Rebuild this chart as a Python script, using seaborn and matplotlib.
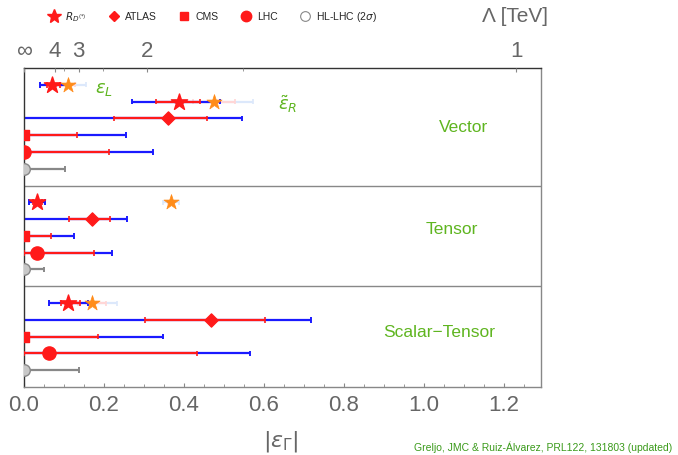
import numpy as np
import pandas as pd
import matplotlib
matplotlib.use("Agg")
import matplotlib.pyplot as plt
import seaborn as sns
from matplotlib.lines import Line2D

# ---------------- data ----------------
panels = ["Vector", "Tensor", "Scalar\u2212Tensor"]
panel_label_y = [3.57, 9.64, 15.77]
panel_label_x = [1.10, 1.07, 1.037]
separators = [7, 13]

row_y = [1, 2, 3, 4, 5, 6, 8, 9, 10, 11, 12, 14, 15, 16, 17, 18]
row_kind = ["RD", "RD", "ATLAS", "CMS", "LHC", "HL",
            "RD", "ATLAS", "CMS", "LHC", "HL",
            "RD", "ATLAS", "CMS", "LHC", "HL"]
central = [0.07, 0.3875, 0.36, 0.0, 0.0, 0.0,
           0.0325, 0.17, 0.0, 0.0325, 0.0,
           0.11, 0.4675, 0.0, 0.0625, 0.0]
lo1 = [0.057, 0.33, 0.225, 0.0, 0.0, np.nan,
       0.022, 0.1125, 0.0, 0.0, np.nan,
       0.0925, 0.3025, 0.0, 0.0, np.nan]
hi1 = [0.09, 0.44, 0.4575, 0.1325, 0.2125, np.nan,
       0.045, 0.215, 0.0675, 0.175, np.nan,
       0.14, 0.6025, 0.185, 0.4325, np.nan]
lo2 = [0.04, 0.27, 0.0, 0.0, 0.0, 0.0,
       0.0125, 0.0, 0.0, 0.0, 0.0,
       0.0625, 0.0, 0.0, 0.0, 0.0]
hi2 = [0.1125, 0.49, 0.545, 0.255, 0.3225, 0.1025,
       0.0525, 0.2575, 0.125, 0.22, 0.05,
       0.16, 0.7175, 0.3475, 0.565, 0.1375]

proj_y = [1, 2, 8, 14]
proj_x = [0.11, 0.475, 0.3675, 0.17]
proj_err1 = [0.018, 0.053, 0.008, 0.035]
proj_err2 = [0.045, 0.098, 0.02, 0.0625]

coef_labels = [r"$\epsilon_L$", r"$\tilde{\epsilon}_R$"]
coef_label_x = [0.20, 0.66]
coef_label_y = [1.3, 2.15]

lambda_ticks = [np.inf, 4, 3, 2, 1]
lambda_labels = ["\u221e", "4", "3", "2", "1"]
lambda_minor = [3.5, 2.5, 1.5]
lam_coef = 1.23

legend_names = [r"$R_{D^{(*)}}$", "ATLAS", "CMS", "LHC", "HL-LHC (2$\\sigma$)"]

# ---------------- style ----------------
sns.set_theme(style="white")
plt.rcParams["font.family"] = ["Liberation Sans", "DejaVu Sans"]
plt.rcParams["mathtext.fontset"] = "dejavusans"

RED = "#ff1a1a"
BLUE = "#1a1aff"
GRAY = "#888888"
ORANGE = "#ff8c1a"
PINK = "#ffd6d6"
LBLUE = "#dce8fb"
GREEN = "#5fb520"
TXT = "#666666"

df = pd.DataFrame(dict(y=row_y, kind=row_kind, c=central,
                       lo1=lo1, hi1=hi1, lo2=lo2, hi2=hi2))
proj = pd.DataFrame(dict(y=proj_y, x=proj_x, e1=proj_err1, e2=proj_err2))

fig = plt.figure(figsize=(6.78, 4.55), dpi=100)
ax = fig.add_axes([24 / 678, 1 - 387 / 455, 517 / 678, 319 / 455])

# faded projected bars
ax.hlines(proj.y, proj.x - proj.e2, proj.x + proj.e2, color=LBLUE, lw=1.6, zorder=1)
ax.vlines(np.r_[proj.x - proj.e2, proj.x + proj.e2], np.r_[proj.y, proj.y] - 0.15,
          np.r_[proj.y, proj.y] + 0.15, color=LBLUE, lw=1.2, zorder=1)
ax.hlines(proj.y, proj.x - proj.e1, proj.x + proj.e1, color=PINK, lw=1.6, zorder=1.5)
ax.vlines(np.r_[proj.x - proj.e1, proj.x + proj.e1], np.r_[proj.y, proj.y] - 0.15,
          np.r_[proj.y, proj.y] + 0.15, color=PINK, lw=1.2, zorder=1.5)

# 2 sigma bars
for kind_is_hl, col in [(False, BLUE), (True, GRAY)]:
    sub = df[(df.kind == "HL") == kind_is_hl]
    ax.hlines(sub.y, sub.lo2, sub.hi2, color=col, lw=1.6, zorder=2)
    ax.vlines(np.r_[sub.lo2, sub.hi2], np.r_[sub.y, sub.y] - 0.17,
              np.r_[sub.y, sub.y] + 0.17, color=col, lw=1.4, zorder=2)
# 1 sigma bars
sub = df.dropna(subset=["lo1"])
ax.hlines(sub.y, sub.lo1, sub.hi1, color=RED, lw=1.6, zorder=3)
ax.vlines(np.r_[sub.lo1, sub.hi1], np.r_[sub.y, sub.y] - 0.17,
          np.r_[sub.y, sub.y] + 0.17, color=RED, lw=1.2, zorder=3)

# markers
marker_map = {"RD": ("*", 150, RED, RED), "ATLAS": ("D", 45, RED, RED),
              "CMS": ("s", 45, RED, RED), "LHC": ("o", 90, RED, RED),
              "HL": ("o", 70, "#c8c8c8", GRAY)}
for k, (m, s, fc, ec) in marker_map.items():
    sub = df[df.kind == k]
    sns.scatterplot(data=sub, x="c", y="y", marker=m, s=s, color=fc,
                    edgecolor=ec, linewidth=1.0, ax=ax, zorder=5, legend=False)
sns.scatterplot(data=proj, x="x", y="y", marker="*", s=130, color=ORANGE,
                edgecolor=ORANGE, linewidth=0.5, ax=ax, zorder=4, legend=False)

# separators and labels
for s in separators:
    ax.axhline(s, color="#888888", lw=1.0, zorder=0)
for name, lx, ly in zip(panels, panel_label_x, panel_label_y):
    ax.text(lx, ly, name, color=GREEN, fontsize=12.5, ha="center", va="center")
for t, lx, ly in zip(coef_labels, coef_label_x, coef_label_y):
    ax.text(lx, ly, t, color=GREEN, fontsize=13, ha="center", va="center")

ax.set_xlim(0, 517 / 400)
ax.set_ylim(19, 0)
ax.set_yticks([])
ax.set_xticks([0.0, 0.2, 0.4, 0.6, 0.8, 1.0, 1.2])
ax.set_xticklabels(["0.0", "0.2", "0.4", "0.6", "0.8", "1.0", "1.2"])
ax.set_xticks(np.arange(0, 1.29, 0.05), minor=True)
ax.tick_params(axis="x", which="both", direction="in", bottom=True, top=False,
               labelsize=16, labelcolor=TXT, color="#888888", pad=6)
ax.tick_params(axis="x", which="major", length=3, width=0.8)
ax.tick_params(axis="x", which="minor", length=2, width=0.6)
ax.set_xlabel("")
ax.set_ylabel("")
for sp, c in [("left", "#333333"), ("top", "#333333"), ("right", "#888888"), ("bottom", "#888888")]:
    ax.spines[sp].set_color(c)
    ax.spines[sp].set_linewidth(1.0)
    ax.spines[sp].set_visible(True)

# top axis: Lambda
top = ax.twiny()
top.set_xlim(ax.get_xlim())
top.set_xticks([lam_coef / l ** 2 for l in lambda_ticks])
top.set_xticklabels(lambda_labels)
top.set_xticks([lam_coef / l ** 2 for l in lambda_minor], minor=True)
top.tick_params(axis="x", which="both", direction="in", top=True, bottom=False,
                labelsize=16, labelcolor=TXT, color="#888888", pad=4)
top.tick_params(axis="x", which="major", length=3, width=0.8)
top.tick_params(axis="x", which="minor", length=2, width=0.6)
for sp in top.spines.values():
    sp.set_visible(False)

fig.text(515 / 678, 1 - 17 / 455, "\u039b [TeV]", color=TXT, fontsize=15,
         ha="center", va="center")
fig.text(281 / 678, 1 - 441 / 455, r"$|\epsilon_\Gamma|$", color=TXT, fontsize=16,
         ha="center", va="center")
fig.text(672 / 678, 1 - 447 / 455,
         "Greljo, JMC & Ruiz-\u00c1lvarez, PRL122, 131803 (updated)",
         color="#3a9a1a", fontsize=7.5, ha="right", va="center")

# legend
handles = [
    Line2D([], [], ls="", marker="*", ms=10, color=RED),
    Line2D([], [], ls="", marker="D", ms=5.5, color=RED),
    Line2D([], [], ls="", marker="s", ms=6, color=RED),
    Line2D([], [], ls="", marker="o", ms=7.5, color=RED),
    Line2D([], [], ls="", marker="o", ms=7, mfc="white", mec=GRAY, mew=0.8),
]
fig.legend(handles, legend_names, loc="center left", bbox_to_anchor=(38 / 678, 1 - 17 / 455),
           ncol=5, frameon=False, fontsize=7.5, handletextpad=0.5, columnspacing=2.0,
           handlelength=1.2)

fig.savefig("out.png", dpi=100)
